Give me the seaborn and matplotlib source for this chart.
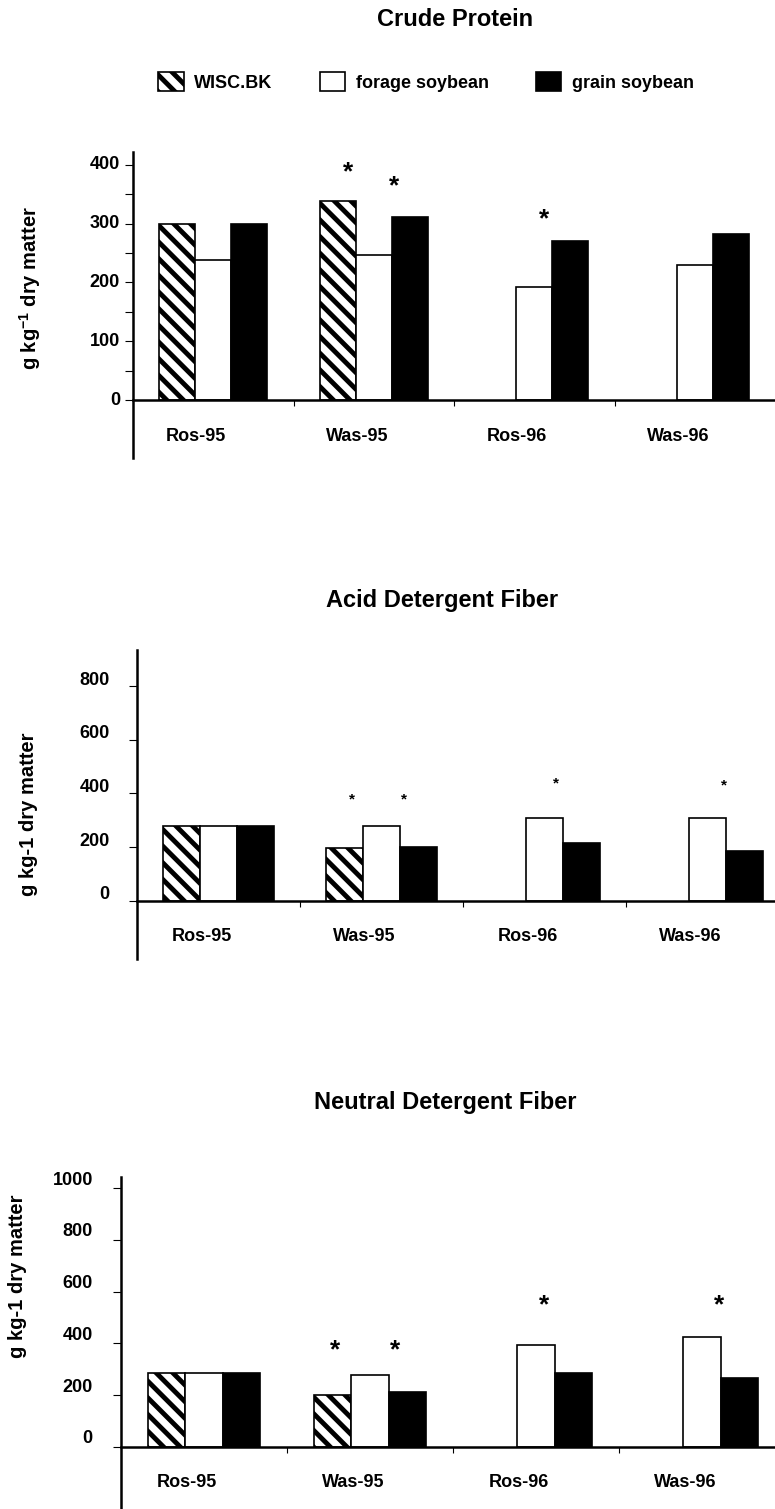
import seaborn as sns
import matplotlib.pyplot as plt
import matplotlib.transforms as mtransforms
import pandas as pd
import numpy as np

# Styling
sns.set_style("ticks")
plt.rcParams["font.family"] = ["Liberation Sans", "DejaVu Sans"]
plt.rcParams["font.weight"] = "bold"
plt.rcParams["mathtext.fontset"] = "custom"
plt.rcParams["mathtext.rm"] = "Liberation Sans:bold"
plt.rcParams["mathtext.bf"] = "Liberation Sans:bold"
plt.rcParams["mathtext.default"] = "bf"
plt.rcParams["hatch.linewidth"] = 3.5
for key in ["text.color", "axes.labelcolor", "xtick.color", "ytick.color", "axes.edgecolor"]:
    plt.rcParams[key] = "black"

# Data (g kg-1 dry matter)
sites = ["Ros-95", "Was-95", "Ros-96", "Was-96"]
varieties = ["WISC.BK", "forage soybean", "grain soybean"]

cp_wisc = [300, 338, np.nan, np.nan]
cp_forage = [238, 247, 193, 229]
cp_grain = [300, 311, 271, 283]

adf_wisc = [278, 198, np.nan, np.nan]
adf_forage = [278, 278, 310, 310]
adf_grain = [278, 201, 214, 187]

ndf_wisc = [284, 200, np.nan, np.nan]
ndf_forage = [284, 277, 394, 426]
ndf_grain = [284, 213, 286, 267]

# significance marks: (site index, offset within group, height)
cp_stars = [(1, -0.16, 397), (1, 0.125, 374), (2, 0.06, 318)]
adf_stars = [(1, -0.18, 391), (1, 0.135, 391), (2, 0.07, 451), (3, 0.10, 444)]
ndf_stars = [(1, -0.21, 394), (1, 0.15, 394), (2, 0.05, 571), (3, 0.10, 571)]

colors = {"WISC.BK": "white", "forage soybean": "white", "grain soybean": "black"}

W, H = 775, 1509
fig = plt.figure(figsize=(W / 100, H / 100), dpi=100)


def px(v):
    return v / 100.0


panels = [
    dict(title="Crude Protein", title_xy=(455, 20),
         rect=(133, 152, 642, 306), ylim=(-98.7, 422.1),
         yticks=[0, 100, 200, 300, 400], yminor=[50, 150, 250, 350],
         ylabel="g kg$^{-1}$ dry matter", ylabel_xy=(-0.16, 0.556),
         ypad=3.6, ydy=2, star_fs=19,
         vals=(cp_wisc, cp_forage, cp_grain), stars=cp_stars),
    dict(title="Acid Detergent Fiber", title_xy=(442, 601),
         rect=(137, 650, 652, 309), ylim=(-217.5, 935.4),
         yticks=[0, 200, 400, 600, 800], yminor=[],
         ylabel="g kg-1 dry matter", ylabel_xy=(-0.166, 0.47),
         ypad=14, ydy=8, star_fs=11,
         vals=(adf_wisc, adf_forage, adf_grain), stars=adf_stars),
    dict(title="Neutral Detergent Fiber", title_xy=(445, 1102),
         rect=(121, 1177, 664, 332), ylim=(-241.1, 1043.7),
         yticks=[0, 200, 400, 600, 800, 1000], yminor=[],
         ylabel="g kg-1 dry matter", ylabel_xy=(-0.156, 0.70),
         ypad=14.5, ydy=10, star_fs=19,
         vals=(ndf_wisc, ndf_forage, ndf_grain), stars=ndf_stars),
]

axes = []
for p in panels:
    l, t, w, h = p["rect"]
    ax = fig.add_axes([l / W, 1 - (t + h) / H, w / W, h / H])
    axes.append(ax)

    df = pd.DataFrame({
        "site": sites * 3,
        "variety": np.repeat(varieties, len(sites)),
        "value": np.concatenate(p["vals"]),
    }).dropna()

    sns.barplot(data=df, x="site", y="value", hue="variety",
                order=sites, hue_order=varieties, palette=colors,
                saturation=1, width=0.675, edgecolor="black", linewidth=1.2,
                errorbar=None, legend=False, ax=ax)
    for bar in ax.containers[0]:
        bar.set_hatch("\\\\")

    ax.set_xlim(-0.5, 3.5)
    ax.set_ylim(*p["ylim"])
    ax.set_xlabel("")
    ax.set_ylabel(p["ylabel"], fontsize=14.5, fontweight="bold", va="center")
    ax.yaxis.set_label_coords(*p["ylabel_xy"])

    for s in ["top", "right"]:
        ax.spines[s].set_visible(False)
    ax.spines["bottom"].set_position(("data", 0))
    ax.spines["bottom"].set_linewidth(1.8)
    ax.spines["left"].set_linewidth(1.8)

    # category labels below the zero line, boundary ticks between groups
    ax.set_xticks(range(len(sites)))
    ax.set_xticklabels(sites, fontsize=13, fontweight="bold")
    ax.set_xticks([0.5, 1.5, 2.5], minor=True)
    ax.tick_params(axis="x", which="major", length=0, pad=20)
    ax.tick_params(axis="x", which="minor", length=4, width=0.8, direction="out")
    for lab in ax.get_xticklabels():
        lab.set_transform(lab.get_transform() + mtransforms.ScaledTranslation(
            px(-17), 0, fig.dpi_scale_trans))

    ax.set_yticks(p["yticks"])
    ax.set_yticklabels([str(v) for v in p["yticks"]], fontsize=13, fontweight="bold")
    if p["yminor"]:
        ax.set_yticks(p["yminor"], minor=True)
    ax.tick_params(axis="y", which="both", length=5.8, width=0.8,
                   direction="out", pad=p["ypad"])
    for lab in ax.get_yticklabels():
        lab.set_transform(lab.get_transform() + mtransforms.ScaledTranslation(
            0, px(p["ydy"]), fig.dpi_scale_trans))

    for i, off, yv in p["stars"]:
        ax.annotate("*", xy=(i + off, yv), xytext=(0, -p["star_fs"] * 0.22),
                    textcoords="offset points", ha="center", va="center",
                    fontsize=p["star_fs"], fontweight="bold")

    tx, ty = p["title_xy"]
    fig.text(tx / W, 1 - ty / H, p["title"], ha="center", va="center",
             fontsize=17, fontweight="bold")

handles = [c[0] for c in axes[0].containers]
fig.legend(handles, varieties, loc="center", bbox_to_anchor=(426 / W, 1 - 82 / H),
           ncol=3, frameon=False, handlelength=1.4, handleheight=1.2,
           handletextpad=0.6, columnspacing=2.6,
           prop={"weight": "bold", "size": 13})

fig.savefig("out.png", dpi=100)
plt.close(fig)
